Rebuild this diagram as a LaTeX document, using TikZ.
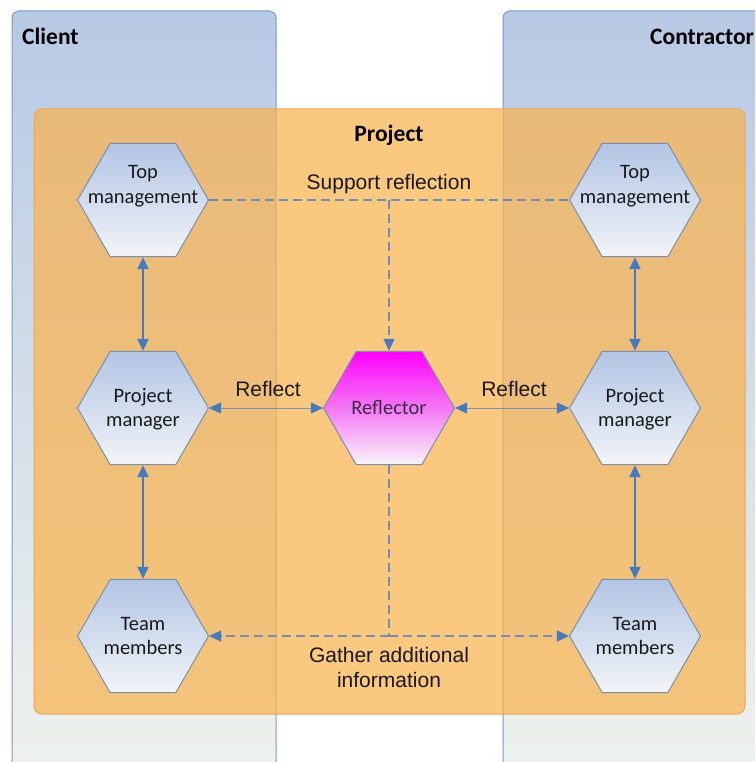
\documentclass[tikz,border=0pt]{standalone}
\usepackage{fontspec}
\setmainfont{Carlito}
\newfontfamily\arialf{Liberation Sans}
\usetikzlibrary{shapes.geometric,arrows.meta}
\definecolor{boxtop}{RGB}{184,201,229}
\definecolor{boxbot}{RGB}{240,243,238}
\definecolor{boxline}{RGB}{122,152,200}
\definecolor{projfill}{RGB}{250,178,75}
\definecolor{projline}{RGB}{236,168,80}
\definecolor{hextop}{RGB}{178,197,228}
\definecolor{hexbot}{RGB}{242,244,247}
\definecolor{hexline}{RGB}{125,142,170}
\definecolor{arrblue}{RGB}{70,122,190}
\definecolor{dashcol}{RGB}{120,140,178}
\definecolor{hlinecol}{RGB}{130,146,175}
\definecolor{txt}{RGB}{25,25,25}
\definecolor{magtop}{RGB}{255,0,255}
\definecolor{magbot}{RGB}{248,244,250}
\definecolor{refltxt}{RGB}{60,40,72}
\begin{document}
\begin{tikzpicture}[x=1pt,y=-1pt,
  hexa/.style={regular polygon, regular polygon sides=6, minimum size=131pt,
    inner sep=0pt, draw=hexline, line width=1pt, top color=hextop, bottom color=hexbot},
  hextext/.style={align=center, inner sep=0pt, text=txt, font=\fontsize{20.5}{24.5}\selectfont},
  lbl/.style={align=center, inner sep=0pt, text=txt, font=\arialf\fontsize{21}{25}\selectfont},
  ttl/.style={inner sep=0pt, text=black, font=\bfseries\fontsize{23.5}{27}\selectfont},
  varrow/.style={draw=arrblue, line width=1.8pt, {Triangle[length=12pt,width=11pt]}-{Triangle[length=12pt,width=11pt]}},
  harrow/.style={draw=hlinecol, line width=1pt, {Triangle[length=12pt,width=11pt,color=arrblue]}-{Triangle[length=12pt,width=11pt,color=arrblue]}},
  dline/.style={draw=dashcol, line width=1.3pt, dash pattern=on 9pt off 5pt}
]
\useasboundingbox (0,0) rectangle (755,762);
\clip (0,0) rectangle (755,762);
\fill[white] (0,0) rectangle (755,762);
% swimlanes
\draw[boxline, line width=1pt, rounded corners=7pt, top color=boxtop, bottom color=boxbot]
  (12,11) rectangle (276,790);
\draw[boxline, line width=1pt, rounded corners=7pt, top color=boxtop, bottom color=boxbot]
  (503,11) rectangle (800,790);
\node[ttl, anchor=base west] (client) at (22,45) {Client};
\node[ttl, anchor=base west] (contr) at (650,45) {Contractor};
% project
\draw[projline, line width=1pt, rounded corners=8pt, fill=projfill, fill opacity=0.7]
  (34,109) rectangle (745,714);
\node[ttl, anchor=base] (proj) at (389,142) {Project};
% hexagons
\node[hexa] (tmL) at (143,200) {};
\node[hexa] (pmL) at (143,408) {};
\node[hexa] (teL) at (143,636) {};
\node[hexa] (tmR) at (635,200) {};
\node[hexa] (pmR) at (635,408) {};
\node[hexa] (teR) at (635,636) {};
\node[hexa, shading=axis, top color=magtop, bottom color=magbot, middle color={rgb,255:red,244;green,120;blue,244}] (refl) at (389,408) {};
\node[hextext] (tmLt) at (143,186) {Top\\management};
\node[hextext] (pmLt) at (143,409) {Project\\manager};
\node[hextext] (teLt) at (143,636) {Team\\members};
\node[hextext] (tmRt) at (635,186) {Top\\management};
\node[hextext] (pmRt) at (635,409) {Project\\manager};
\node[hextext] (teRt) at (635,636) {Team\\members};
\node[hextext, text=refltxt] (reflt) at (389,408) {Reflector};
% solid arrows
\draw[varrow] (tmL.south) -- (pmL.north);
\draw[varrow] (pmL.south) -- (teL.north);
\draw[varrow] (tmR.south) -- (pmR.north);
\draw[varrow] (pmR.south) -- (teR.north);
\draw[harrow] (pmL.east) -- (refl.west);
\draw[harrow] (refl.east) -- (pmR.west);
\node[lbl] (rl) at (268,389) {Reflect};
\node[lbl] (rr) at (514,389) {Reflect};
% dashed
\coordinate (sup) at (refl.north |- tmL.east);
\draw[dline] (tmL.east) -- (tmR.west);
\draw[dline, -{Triangle[length=12pt,width=11pt,color=arrblue]}] (sup) -- (refl.north);
\node[lbl] (supt) at (389,184) {Support reflection};
\coordinate (gat) at (refl.south |- teL.east);
\draw[dline] (refl.south) -- (gat);
\draw[dline, -{Triangle[length=12pt,width=11pt,color=arrblue]}] (gat) -- (teL.east);
\draw[dline, -{Triangle[length=12pt,width=11pt,color=arrblue]}] (gat) -- (teR.west);
\node[lbl] (gatt) at (389,667) {Gather additional\\information};
\end{tikzpicture}
\end{document}
